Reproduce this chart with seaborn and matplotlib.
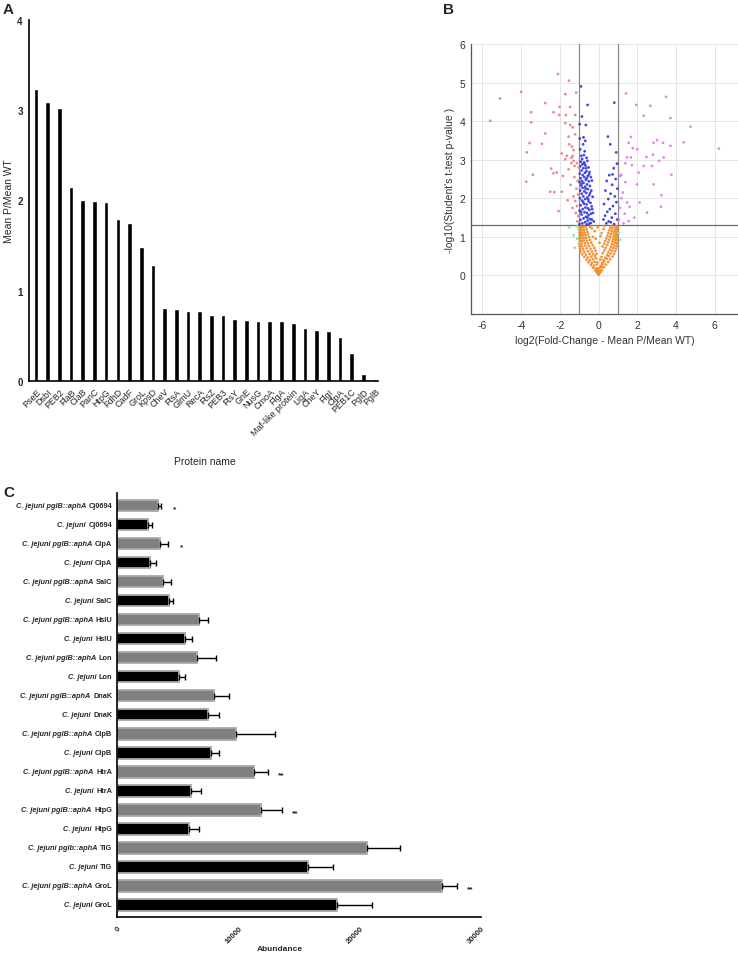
import numpy as np
import pandas as pd
import matplotlib
matplotlib.use('Agg')
import matplotlib.pyplot as plt
import seaborn as sns
from matplotlib.offsetbox import TextArea, HPacker, AnnotationBbox

# ---- Panel A data ----
proteins_a = ['PseE', 'DsbI', 'PEB2', 'FlaB', 'CiaB', 'PanC', 'HtpG', 'FdhD', 'CadF', 'GroL',
              'KpsD', 'CheV', 'FtsA', 'GlmU', 'RecA', 'FtsZ', 'PEB3', 'FtsY', 'GnE', 'NusG',
              'CmoA', 'FlgA', 'Maf-like protein', 'LigA', 'CheY', 'FlgI', 'ClpA', 'PEB1C', 'PglD', 'PglB']
ratio_a = [3.23, 3.09, 3.02, 2.15, 2.00, 1.99, 1.98, 1.80, 1.75, 1.48,
           1.28, 0.81, 0.80, 0.77, 0.77, 0.73, 0.73, 0.69, 0.68, 0.67,
           0.66, 0.66, 0.64, 0.59, 0.56, 0.55, 0.49, 0.31, 0.08, 0.02]

# ---- Panel B data (volcano) ----
red_pts = [(-2.10, 5.22), (-1.53, 5.05), (-4.00, 4.76), (-5.09, 4.59), (-1.72, 4.70), (-1.16, 4.74),
           (-2.76, 4.47), (-3.48, 4.23), (-2.02, 4.37), (-1.47, 4.37), (-2.33, 4.23), (-2.03, 4.16),
           (-1.69, 4.16), (-1.21, 4.16), (-5.60, 4.01), (-3.48, 3.97), (-1.72, 3.95), (-1.47, 3.90),
           (-1.34, 3.84), (-2.76, 3.68), (-1.21, 3.66), (-1.55, 3.60), (-3.57, 3.43), (-2.93, 3.41),
           (-1.52, 3.40), (-1.38, 3.34), (-3.71, 3.19), (-1.90, 3.16), (-1.64, 3.10), (-1.34, 3.10),
           (-1.72, 3.01), (-1.29, 2.97), (-1.41, 2.91), (-1.12, 2.91), (-1.24, 2.84), (-2.45, 2.77),
           (-2.16, 2.67), (-2.33, 2.65), (-3.40, 2.61), (-1.03, 2.80), (-3.74, 2.43), (-2.50, 2.17),
           (-2.29, 2.16), (-2.07, 1.67), (-1.90, 2.17), (-1.84, 2.58), (-1.21, 1.93), (-1.12, 1.80),
           (-1.05, 1.54), (-1.30, 2.05), (-1.15, 2.25), (-1.08, 2.45), (-1.25, 2.55), (-1.45, 2.35),
           (-1.10, 1.40), (-1.35, 1.75), (-1.60, 1.95), (-1.18, 1.62), (-1.06, 2.10), (-1.40, 3.05),
           (-1.30, 3.25), (-1.55, 2.75)]
magenta_pts = [(1.41, 4.72), (3.48, 4.63), (1.95, 4.42), (2.67, 4.40), (2.33, 4.14), (3.71, 4.08),
               (4.74, 3.86), (1.67, 3.59), (3.02, 3.51), (2.84, 3.44), (1.55, 3.44), (3.33, 3.44),
               (4.40, 3.45), (3.71, 3.36), (1.76, 3.30), (2.00, 3.27), (6.21, 3.29), (1.47, 3.06),
               (2.47, 3.07), (2.81, 3.13), (1.67, 3.06), (3.36, 3.06), (3.12, 2.97), (1.38, 2.91),
               (1.72, 2.86), (2.33, 2.84), (2.76, 2.84), (2.07, 2.67), (1.17, 2.61), (3.76, 2.61),
               (1.38, 2.42), (1.98, 2.36), (2.84, 2.36), (3.24, 2.08), (3.22, 1.78), (2.50, 1.63),
               (2.12, 1.89), (1.60, 1.78), (1.84, 1.50), (1.47, 1.89), (1.29, 1.35), (1.55, 1.41),
               (1.12, 2.58), (1.25, 2.15), (1.35, 1.60), (1.10, 1.75), (1.18, 2.00), (1.05, 1.45)]
blue_pts = [(-0.91, 4.90), (-0.57, 4.42), (-0.86, 4.12), (-0.98, 3.92), (-0.66, 3.90), (-0.78, 3.58),
            (-0.69, 3.49), (-0.95, 3.27), (-0.90, 3.10), (-0.72, 3.22), (-0.80, 3.40), (-0.62, 3.05),
            (-0.85, 3.02), (-0.97, 3.55), (-0.92, 2.95), (-0.75, 2.93), (-0.58, 2.97), (-0.84, 2.88),
            (-0.68, 2.85), (-0.95, 2.83), (-0.52, 2.80), (-0.79, 2.78), (-0.88, 2.72), (-0.63, 2.70),
            (-0.71, 2.66), (-0.97, 2.64), (-0.47, 2.68), (-0.82, 2.60), (-0.56, 2.58), (-0.74, 2.55),
            (-0.93, 2.52), (-0.40, 2.55), (-0.66, 2.48), (-0.86, 2.45), (-0.51, 2.44), (-0.78, 2.40),
            (-0.99, 2.42), (-0.35, 2.46), (-0.60, 2.36), (-0.90, 2.33), (-0.70, 2.30), (-0.45, 2.32),
            (-0.83, 2.27), (-0.55, 2.24), (-0.95, 2.20), (-0.74, 2.18), (-0.38, 2.20), (-0.64, 2.14),
            (-0.87, 2.12), (-0.48, 2.08), (-0.79, 2.05), (-0.58, 2.02), (-0.96, 2.00), (-0.31, 2.04),
            (-0.69, 1.98), (-0.85, 1.94), (-0.52, 1.92), (-0.42, 1.88), (-0.75, 1.86), (-0.62, 1.84),
            (-0.93, 1.82), (-0.36, 1.79), (-0.68, 1.76), (-0.55, 1.74), (-0.82, 1.72), (-0.47, 1.70),
            (-0.98, 1.68), (-0.73, 1.64), (-0.60, 1.62), (-0.40, 1.60), (-0.88, 1.58), (-0.52, 1.56),
            (-0.29, 1.62), (-0.66, 1.52), (-0.78, 1.48), (-0.45, 1.46), (-0.94, 1.44), (-0.57, 1.42),
            (-0.35, 1.45), (-0.70, 1.38), (-0.84, 1.35), (-0.50, 1.34), (-0.62, 1.32), (-0.41, 1.36),
            (-0.99, 1.33), (-0.73, 2.90), (-0.61, 2.52), (-0.44, 2.14), (-0.88, 2.38), (-0.67, 2.25),
            (-0.54, 1.98), (-0.80, 1.90), (-0.33, 1.72), (-0.91, 1.65), (-0.58, 1.50), (-0.25, 1.40),
            (-0.49, 2.62), (-0.76, 3.12), (-0.65, 2.78),
            (0.81, 4.48), (0.48, 3.60), (0.60, 3.40), (0.91, 3.19), (0.95, 2.90), (0.78, 2.78),
            (0.55, 2.60), (0.88, 2.50), (0.42, 2.45), (0.70, 2.35), (0.97, 2.25), (0.35, 2.20),
            (0.62, 2.12), (0.84, 2.05), (0.50, 1.98), (0.92, 1.90), (0.28, 1.85), (0.74, 1.80),
            (0.58, 1.72), (0.45, 1.65), (0.86, 1.60), (0.33, 1.55), (0.68, 1.50), (0.96, 1.45),
            (0.52, 1.40), (0.40, 1.35), (0.80, 1.33), (0.63, 1.38), (0.25, 1.45), (0.72, 2.62)]
orange_pts = [(0.00, 0.02), (0.02, 0.04), (-0.03, 0.05),
              (-0.10, 0.08), (0.09, 0.09), (-0.05, 0.10), (0.04, 0.07),
              (-0.18, 0.13), (0.17, 0.14), (-0.08, 0.15), (0.10, 0.12), (0.00, 0.13),
              (-0.30, 0.20), (0.28, 0.21), (-0.15, 0.19), (0.16, 0.22), (-0.04, 0.18), (0.06, 0.20),
              (-0.40, 0.27), (0.38, 0.28), (-0.25, 0.26), (0.22, 0.29), (-0.10, 0.28), (0.12, 0.25),
              (-0.52, 0.34), (0.50, 0.35), (-0.35, 0.33), (0.30, 0.36), (-0.20, 0.35), (0.18, 0.32), (-0.06, 0.34),
              (-0.62, 0.41), (0.60, 0.42), (-0.45, 0.40), (0.42, 0.43), (-0.28, 0.42), (0.25, 0.40),
              (-0.12, 0.44), (0.08, 0.41),
              (-0.74, 0.48), (0.72, 0.49), (-0.56, 0.47), (0.52, 0.50), (-0.38, 0.49), (0.35, 0.46),
              (-0.18, 0.50), (0.15, 0.48),
              (-0.85, 0.55), (0.80, 0.56), (-0.66, 0.54), (0.62, 0.57), (-0.47, 0.56), (0.44, 0.53),
              (-0.28, 0.55), (0.22, 0.58), (-0.10, 0.56),
              (-0.92, 0.62), (0.86, 0.63), (-0.74, 0.61), (0.70, 0.64), (-0.55, 0.63), (0.50, 0.60),
              (-0.35, 0.62), (0.30, 0.65), (-0.16, 0.64),
              (-0.95, 0.69), (0.90, 0.70), (-0.80, 0.68), (0.76, 0.71), (-0.62, 0.70), (0.58, 0.67),
              (-0.42, 0.69), (0.36, 0.72), (-0.22, 0.71),
              (-0.97, 0.76), (0.93, 0.77), (-0.84, 0.75), (0.80, 0.78), (-0.68, 0.77), (0.64, 0.74),
              (-0.50, 0.76), (0.44, 0.79), (-0.30, 0.78), (0.20, 0.75),
              (-0.99, 0.83), (0.95, 0.84), (-0.88, 0.82), (0.84, 0.85), (-0.72, 0.84), (0.68, 0.81),
              (-0.56, 0.83), (0.50, 0.86), (-0.38, 0.85), (0.28, 0.82),
              (-0.96, 0.90), (0.97, 0.91), (-0.86, 0.89), (0.86, 0.92), (-0.76, 0.91), (0.72, 0.88),
              (-0.60, 0.90), (0.55, 0.93), (-0.44, 0.92), (0.34, 0.89),
              (-0.98, 0.97), (0.94, 0.98), (-0.89, 0.96), (0.88, 0.99), (-0.78, 0.98), (0.76, 0.95),
              (-0.65, 0.97), (0.60, 1.00), (-0.50, 0.99), (0.40, 0.96),
              (-0.97, 1.04), (0.96, 1.05), (-0.90, 1.03), (0.90, 1.06), (-0.81, 1.05), (0.78, 1.02),
              (-0.68, 1.04), (0.64, 1.07), (-0.55, 1.06), (0.46, 1.03),
              (-0.99, 1.11), (0.98, 1.12), (-0.92, 1.10), (0.91, 1.13), (-0.84, 1.12), (0.80, 1.09),
              (-0.72, 1.11), (0.68, 1.14), (-0.58, 1.13), (0.50, 1.10),
              (-0.98, 1.18), (0.97, 1.19), (-0.93, 1.17), (0.92, 1.20), (-0.86, 1.19), (0.82, 1.16),
              (-0.75, 1.18), (0.70, 1.21), (-0.62, 1.20), (0.55, 1.17),
              (-0.99, 1.25), (0.99, 1.26), (-0.94, 1.24), (0.93, 1.27), (-0.87, 1.26), (0.85, 1.23),
              (-0.78, 1.25), (0.73, 1.28), (-0.66, 1.27), (0.60, 1.24), (-0.45, 1.26),
              (-0.30, 1.00), (0.10, 1.02), (-0.20, 1.15), (0.25, 1.20), (-0.35, 1.22), (0.05, 0.85),
              (-0.15, 0.95), (0.15, 1.10), (-0.05, 1.25), (0.30, 1.28)]
green_pts = [(-1.52, 1.25), (-1.12, 1.28), (-1.03, 1.19), (-1.24, 0.72), (-1.03, 0.83), (-1.29, 1.04), (-1.10, 0.95)]
cyan_pts = [(1.12, 0.92), (1.05, 1.10)]

# ---- Panel C data ----
proteins_c = ['Cj0694', 'Cj0694', 'ClpA', 'ClpA', 'SalC', 'SalC', 'HslU', 'HslU', 'Lon', 'Lon',
              'DnaK', 'DnaK', 'ClpB', 'ClpB', 'HtrA', 'HtrA', 'HtpG', 'HtpG', 'TiG', 'TiG', 'GroL', 'GroL']
strains_c = ['C. jejuni pglB::aphA', 'C. jejuni'] * 9 + ['C. jejuni pglb::aphA', 'C. jejuni',
                                                        'C. jejuni pglB::aphA', 'C. jejuni']
groups_c = ['mutant', 'wt'] * 11
abundance = [3330, 2500, 3490, 2670, 3800, 4290, 6740, 5560, 6600, 5060, 7950, 7500,
             9810, 7720, 11270, 6100, 11820, 5910, 20560, 15700, 26740, 18090]
abundance_sd = [270, 390, 710, 490, 630, 330, 710, 570, 1510, 500, 1230, 910,
                3160, 660, 1180, 830, 1780, 830, 2740, 2100, 1290, 2880]
signif = ['*', '', '*', '', '', '', '', '', '', '', '', '', '', '', '**', '', '**', '', '', '', '**', '']

sns.set_style('white')
plt.rcParams['font.family'] = ['Liberation Sans', 'DejaVu Sans']
plt.rcParams['axes.unicode_minus'] = False

fig = plt.figure(figsize=(7.38, 9.54), dpi=100)

# ================= Panel A =================
axA = fig.add_axes([0.0393, 0.5996, 0.473, 0.3784])
dfa = pd.DataFrame({'protein': proteins_a, 'ratio': ratio_a})
sns.barplot(data=dfa, x='protein', y='ratio', color='black', width=0.4, ax=axA)
axA.set_ylim(0, 4)
axA.set_xlim(-0.6, len(proteins_a) - 0.74)
axA.set_yticks([0, 1, 2, 3, 4])
axA.set_yticklabels(['0', '1', '2', '3', '4'], fontsize=7, fontweight='bold')
axA.set_xticks(range(len(proteins_a)))
axA.set_xticklabels(proteins_a, rotation=45, ha='right', rotation_mode='anchor', fontsize=6.5)
axA.tick_params(axis='both', length=2.5, width=1, pad=1.5, color='black', direction='out')
axA.tick_params(axis='y', length=3)
sns.despine(ax=axA)
for s in ['left', 'bottom']:
    axA.spines[s].set_color('black')
    axA.spines[s].set_linewidth(1.2)
axA.set_xlabel('')
axA.set_ylabel('Mean P/Mean WT', fontsize=7.5, labelpad=2)
fig.text(205 / 738, 1 - 462 / 954, 'Protein name', fontsize=7.5, ha='center', va='center')

# ================= Panel B =================
axB = fig.add_axes([0.638, 0.6698, 0.362, 0.283])
rows = []
for name, pts in [('orange', orange_pts), ('green', green_pts), ('cyan', cyan_pts),
                  ('blue', blue_pts), ('red', red_pts), ('magenta', magenta_pts)]:
    for x, y in pts:
        rows.append({'fc': x, 'p': y, 'group': name})
dfb = pd.DataFrame(rows)
pal = {'orange': '#f58a1f', 'green': '#8be08b', 'cyan': '#7fe3e8',
       'blue': '#2f36d8', 'red': '#ec7d80', 'magenta': '#e27be6'}
axB.grid(True, color='#e6e6e6', linewidth=0.7)
axB.set_axisbelow(True)
axB.axvline(-1, color='#8c8c8c', linewidth=0.9, zorder=1)
axB.axvline(1, color='#8c8c8c', linewidth=0.9, zorder=1)
axB.axhline(1.3, color='#6e6e6e', linewidth=0.9, zorder=1)
sns.scatterplot(data=dfb, x='fc', y='p', hue='group', palette=pal, s=4, linewidth=0,
                alpha=0.9, legend=False, ax=axB, zorder=3)
axB.set_xlim(-6.6, 7.2)
axB.set_ylim(-1, 6)
axB.set_xticks([-6, -4, -2, 0, 2, 4, 6])
axB.set_yticks([0, 1, 2, 3, 4, 5, 6])
bfont = ['Liberation Sans Narrow', 'Liberation Sans', 'DejaVu Sans']
for lab in axB.get_xticklabels() + axB.get_yticklabels():
    lab.set_family(bfont)
    lab.set_fontsize(7.5)
    lab.set_color('#333333')
axB.tick_params(axis='both', length=2, width=0.8, pad=2, color='#555555', direction='out')
for s in ['top', 'right']:
    axB.spines[s].set_visible(False)
for s in ['left', 'bottom']:
    axB.spines[s].set_color('#555555')
    axB.spines[s].set_linewidth(0.9)
axB.set_xlabel('log2(Fold-Change - Mean P/Mean WT)', fontsize=7.5, family=bfont, color='#333333', labelpad=4)
axB.set_ylabel("-log10(Student's t-test p-value )", fontsize=7.5, family=bfont, color='#333333', labelpad=3)

# ================= Panel C =================
axC = fig.add_axes([0.159, 0.0377, 0.493, 0.4443])
labels_c = [f'{s} {p}' for s, p in zip(strains_c, proteins_c)]
dfc = pd.DataFrame({'label': labels_c, 'value': abundance, 'group': groups_c})
sns.barplot(data=dfc, y='label', x='value', hue='group', palette={'mutant': '#808080', 'wt': '#000000'},
            dodge=False, width=0.62, edgecolor='#a9a9a9', linewidth=1.3, orient='h', legend=False, ax=axC)
pos = np.arange(len(abundance))
axC.errorbar(abundance, pos, xerr=[np.zeros(len(abundance)), abundance_sd], fmt='none',
             ecolor='black', elinewidth=1, capsize=2.5, capthick=1, zorder=4)
for i, star in enumerate(signif):
    if star:
        axC.text(abundance[i] + abundance_sd[i] + 1100, i + 0.15, star, fontsize=6, fontweight='bold',
                 ha='center', va='center')
axC.set_xlim(0, 30000)
axC.set_ylim(len(abundance) - 0.35, -0.65)
axC.set_xticks([0, 10000, 20000, 30000])
axC.set_xticklabels(['0', '10000', '20000', '30000'], rotation=45, ha='right', rotation_mode='anchor',
                    fontsize=5.5, fontweight='bold')
axC.set_yticks(pos)
axC.set_yticklabels([])
axC.tick_params(axis='both', length=3, width=1, color='black', direction='out', pad=2)
sns.despine(ax=axC)
for s in ['left', 'bottom']:
    axC.spines[s].set_color('black')
    axC.spines[s].set_linewidth(1.2)
axC.set_xlabel('')
axC.set_ylabel('')
for i, (s, p) in enumerate(zip(strains_c, proteins_c)):
    t1 = TextArea(s, textprops=dict(fontsize=5.3, fontweight='bold', fontstyle='italic'))
    t2 = TextArea(p, textprops=dict(fontsize=5.3, fontweight='bold'))
    box = HPacker(children=[t1, t2], align='baseline', pad=0, sep=2)
    ab = AnnotationBbox(box, xy=(0, i), xycoords=('axes fraction', 'data'), xybox=(-3.5, 0),
                        boxcoords='offset points', box_alignment=(1, 0.5), frameon=False, pad=0)
    axC.add_artist(ab)
fig.text(280 / 738, 1 - 950 / 954, 'Abundance', fontsize=6, fontweight='bold', ha='center', va='center')

# panel letters
fig.text(0.004, 1 - 10 / 954, 'A', fontsize=11, fontweight='bold', va='center')
fig.text(443 / 738, 1 - 10 / 954, 'B', fontsize=11, fontweight='bold', va='center')
fig.text(0.004, 1 - 493 / 954, 'C', fontsize=11, fontweight='bold', va='center')

plt.savefig('out.png', dpi=100)
